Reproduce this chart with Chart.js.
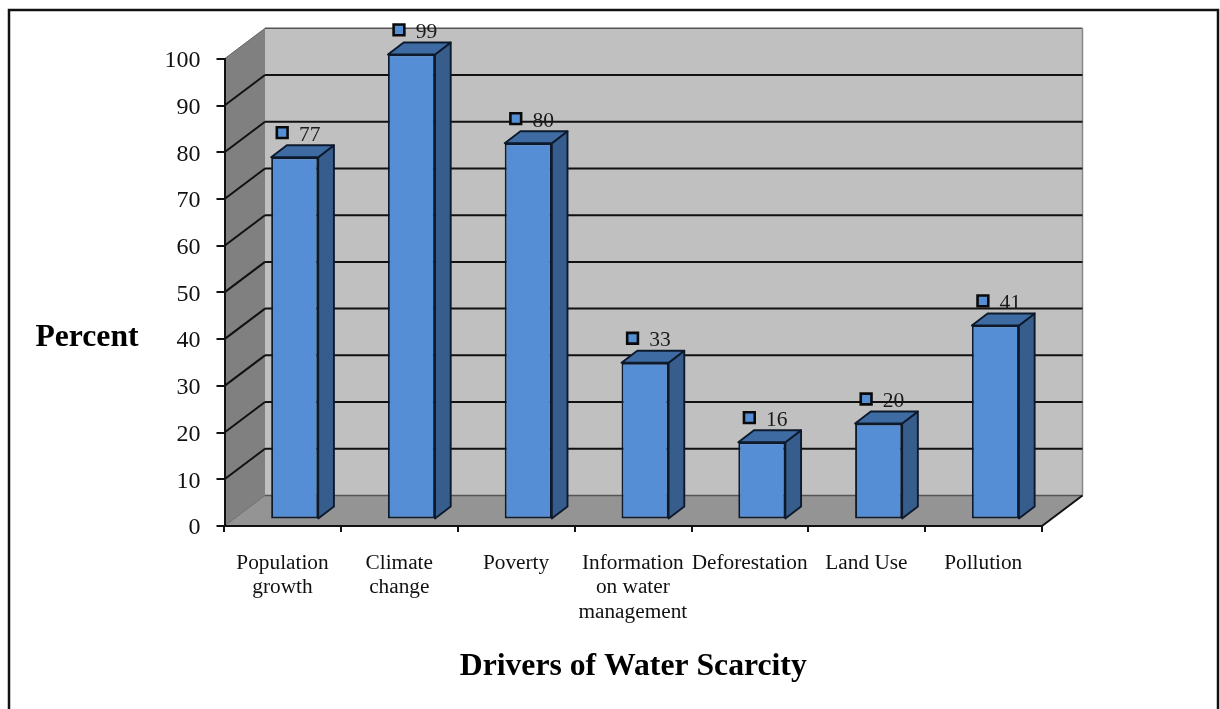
<!DOCTYPE html>
<html>
<head>
<meta charset="utf-8">
<style>
html,body{margin:0;padding:0;background:#fff;overflow:hidden}
#wrap{position:relative;width:1220px;height:709px}
canvas{display:block}
</style>
<script src="https://cdn.jsdelivr.net/npm/chart.js@4"></script>
</head>
<body>
<div id="wrap"><canvas id="c" width="1220" height="709"></canvas></div>
<script>
const categories = [
  ["Population","growth"],
  ["Climate","change"],
  ["Poverty"],
  ["Information","on water","management"],
  ["Deforestation"],
  ["Land Use"],
  ["Pollution"]
];
const percentValues = [77, 99, 80, 33, 16, 20, 41];
const yTickStep = 10;
const yMax = 100;
const yAxisName = "Percent";
const xAxisName = "Drivers of Water Scarcity";

const SERIF = '"Liberation Serif","Times New Roman",serif';
const WALL = {dx: 40.5, dy: -30.5};
const BAR_SHIFT = {dx: 11.8, dy: -9};
const BAR_DEPTH = {dx: 15.7, dy: -12};
const MARK_LIFT = -33.6;

function poly(ctx, pts, fill, stroke, lw){
  ctx.beginPath();
  pts.forEach((p,i)=> i ? ctx.lineTo(p[0],p[1]) : ctx.moveTo(p[0],p[1]));
  ctx.closePath();
  if(fill){ctx.fillStyle=fill;ctx.fill();}
  if(stroke){ctx.strokeStyle=stroke;ctx.lineWidth=lw;ctx.stroke();}
}
function line(ctx,x1,y1,x2,y2,color,lw){
  ctx.beginPath();ctx.moveTo(x1,y1);ctx.lineTo(x2,y2);
  ctx.strokeStyle=color;ctx.lineWidth=lw;ctx.stroke();
}

const scene3d = {
  id:'scene3d',
  beforeDraw(chart){
    const {ctx,chartArea:a,scales:{y}} = chart;
    const L=a.left,R=a.right,T=y.getPixelForValue(yMax),B=y.getPixelForValue(0);
    const dx=WALL.dx,dy=WALL.dy;
    ctx.save();
    // outer frame, open at the bottom
    ctx.lineCap='butt';
    ctx.strokeStyle='#111';ctx.lineWidth=2.5;
    ctx.beginPath();ctx.moveTo(9,712);ctx.lineTo(9,10);ctx.lineTo(1218,10);ctx.lineTo(1218,712);ctx.stroke();
    // back wall, left wall, floor
    poly(ctx,[[L+dx,T+dy],[R+dx,T+dy],[R+dx,B+dy],[L+dx,B+dy]],'#c0c0c0');
    poly(ctx,[[L,T],[L+dx,T+dy],[L+dx,B+dy],[L,B]],'#808080');
    poly(ctx,[[L,B],[L+dx,B+dy],[R+dx,B+dy],[R,B]],'#949494');
    // wall edges
    line(ctx,L+dx,T+dy,R+dx,T+dy,'#555',1.5);
    line(ctx,R+dx,T+dy,R+dx,B+dy,'#888',1.5);
    line(ctx,L+dx,B+dy,R+dx,B+dy,'#555',1.5);
    line(ctx,L,T,L+dx,T+dy,'#666',1);
    line(ctx,L,B,L+dx,B+dy,'#555',0.7);
    line(ctx,R,B,R+dx,B+dy,'#111',2);
    // grid lines on both walls
    for(let v=yTickStep;v<yMax;v+=yTickStep){
      const p=y.getPixelForValue(v);
      line(ctx,L,p,L+dx,p+dy,'#111',2);
      line(ctx,L+dx,p+dy,R+dx,p+dy,'#111',2);
    }
    // name of the value axis
    ctx.fillStyle='#000';
    ctx.font='bold 31.7px '+SERIF;
    ctx.textAlign='center';ctx.textBaseline='middle';
    ctx.fillText(yAxisName,87,337.5);
    ctx.restore();
  },
  beforeDatasetDraw(chart,args){
    const ctx=chart.ctx;
    ctx.save();
    if(args.index===0) ctx.translate(BAR_SHIFT.dx,BAR_SHIFT.dy);
    else ctx.translate(-0.7,MARK_LIFT);
  },
  afterDatasetDraw(chart,args){
    const ctx=chart.ctx;
    if(args.index===0){
      const dx=BAR_DEPTH.dx,dy=BAR_DEPTH.dy;
      ctx.lineJoin='round';
      args.meta.data.forEach(b=>{
        const l=b.x-b.width/2,r=b.x+b.width/2,t=b.y,bt=b.base;
        poly(ctx,[[r,t],[r+dx,t+dy],[r+dx,bt+dy],[r,bt]],'#375d8c','#0d1a2c',1.9);
        poly(ctx,[[l,t],[l+dx,t+dy],[r+dx,t+dy],[r,t]],'#3f6ba3','#0d1a2c',1.9);
      });
    }
    ctx.restore();
  },
  afterDatasetsDraw(chart){
    const ctx=chart.ctx;
    const meta=chart.getDatasetMeta(1);
    ctx.save();
    ctx.fillStyle='#1a1a1a';
    ctx.font='21.5px '+SERIF;
    ctx.textAlign='left';ctx.textBaseline='middle';
    meta.data.forEach((pt,i)=>{
      ctx.fillText(String(percentValues[i]),pt.x+16,pt.y+MARK_LIFT+2.5);
    });
    ctx.restore();
  }
};

new Chart(document.getElementById('c'),{
  type:'bar',
  plugins:[scene3d],
  data:{
    labels:categories,
    datasets:[
      {
        type:'bar',
        data:percentValues,
        base:-0.3,
        backgroundColor:'#558ed5',
        borderColor:'#0d1a2c',
        borderWidth:1.9,
        borderSkipped:false,
        categoryPercentage:1,
        barPercentage:0.403,
        clip:false,
        order:2
      },
      {
        type:'line',
        data:percentValues,
        showLine:false,
        pointStyle:'rect',
        pointRadius:7.6,
        pointBackgroundColor:'#558ed5',
        pointBorderColor:'#0a0a0a',
        pointBorderWidth:2.6,
        clip:false,
        order:1
      }
    ]
  },
  options:{
    responsive:false,
    animation:false,
    layout:{padding:{left:0,top:58.8,right:178,bottom:0}},
    plugins:{legend:{display:false},tooltip:{enabled:false},title:{display:false}},
    scales:{
      x:{
        offset:true,
        afterFit(s){s.height=183;},
        grid:{drawOnChartArea:false,drawTicks:true,tickLength:6,color:'#111',lineWidth:2},
        border:{display:true,color:'#111',width:2},
        ticks:{
          autoSkip:false,maxRotation:0,minRotation:0,padding:19,color:'#111',labelOffset:-0.4,
          font:{family:SERIF,size:21.3,lineHeight:1.145}
        },
        title:{
          display:true,text:xAxisName,color:'#000',
          font:{family:SERIF,size:31.7,weight:'bold'},
          padding:{top:0,bottom:23}
        }
      },
      y:{
        min:0,max:yMax,
        afterFit(s){s.width=224.5;},
        grid:{drawOnChartArea:false,drawTicks:true,tickLength:8,color:'#111',lineWidth:2},
        border:{display:true,color:'#111',width:2},
        ticks:{
          stepSize:yTickStep,padding:16,color:'#111',labelOffset:2,
          font:{family:SERIF,size:24}
        }
      }
    }
  }
});
</script>
</body>
</html>
